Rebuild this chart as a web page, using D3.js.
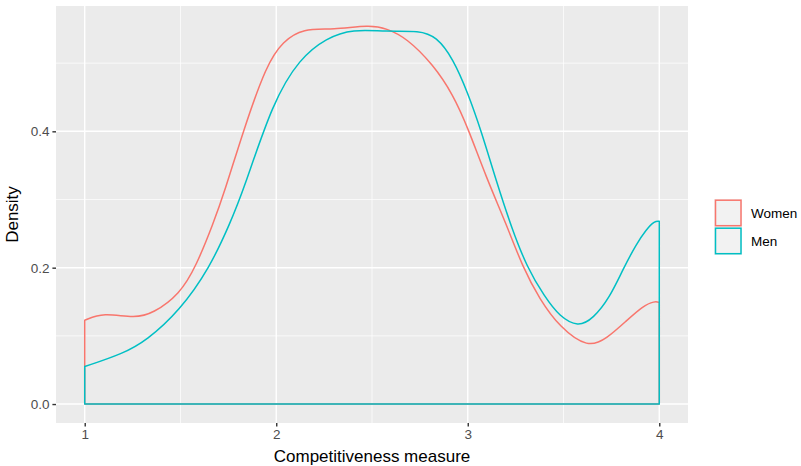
<!DOCTYPE html>
<html>
<head>
<meta charset="utf-8">
<script src="https://cdn.jsdelivr.net/npm/d3@7"></script>
<style>
	body { margin: 0; background: #fff; }
	text { font-family: "Liberation Sans", Arial, sans-serif; }
</style>
</head>
<body>
<div id="chart"></div>
<script>
const width = 801;
const height = 466;

// values (x = competitiveness, y = density)
const womenX = [1, 1.096, 1.261, 1.357, 1.496, 1.583, 1.67, 1.731, 1.827, 1.949, 2.035, 2.14, 2.297, 2.488, 2.575, 2.68, 2.819, 2.923, 3.001, 3.097, 3.201, 3.288, 3.375, 3.48, 3.628, 3.724, 3.828, 3.915, 3.976, 4];
const womenY = [0.123, 0.134, 0.126, 0.133, 0.161, 0.203, 0.264, 0.312, 0.4, 0.498, 0.532, 0.551, 0.549, 0.556, 0.551, 0.537, 0.498, 0.454, 0.405, 0.332, 0.264, 0.2, 0.154, 0.1126, 0.082, 0.0956, 0.122, 0.144, 0.151, 0.149];
const menX = [1, 1.2, 1.322, 1.496, 1.653, 1.757, 1.827, 1.983, 2.123, 2.262, 2.4, 2.575, 2.749, 2.836, 2.923, 3.001, 3.071, 3.149, 3.228, 3.31, 3.4, 3.48, 3.576, 3.654, 3.741, 3.811, 3.88, 3.932, 3.976, 4];
const menY = [0.055, 0.074, 0.093, 0.137, 0.2, 0.264, 0.312, 0.444, 0.507, 0.537, 0.55, 0.546, 0.548, 0.539, 0.507, 0.456, 0.4, 0.327, 0.259, 0.2, 0.158, 0.128, 0.113, 0.125, 0.156, 0.198, 0.2345, 0.256, 0.2685, 0.268];

const groups = ["Women", "Men"];
const colors = ["#F8766D", "#00BFC4"];
const xTicks = [1, 2, 3, 4];
const xMinor = [1.5, 2.5, 3.5];
const yTicks = [0, 0.2, 0.4];
const yMinor = [0.1, 0.3, 0.5];

const panel = { left: 56, top: 6, right: 688, bottom: 423 };

const series = [
	womenX.map((v, i) => [v, womenY[i]]),
	menX.map((v, i) => [v, menY[i]]),
];

const xLo = 1, xHi = 4;
const yMax = d3.max(womenY.concat(menY));
const xPad = (xHi - xLo) * 0.05;
const yPad = yMax * 0.05;

const x = d3.scaleLinear().domain([xLo - xPad, xHi + xPad]).range([panel.left, panel.right]);
const y = d3.scaleLinear().domain([-yPad, yMax + yPad]).range([panel.bottom, panel.top]);

const svg = d3
	.select("#chart")
	.append("svg")
	.attr("width", width)
	.attr("height", height);

svg.append("rect")
	.attr("x", panel.left)
	.attr("y", panel.top)
	.attr("width", panel.right - panel.left)
	.attr("height", panel.bottom - panel.top)
	.attr("fill", "#EBEBEB");

// minor grid
svg.selectAll(".xminor").data(xMinor).join("line")
	.attr("x1", d => x(d)).attr("x2", d => x(d))
	.attr("y1", panel.top).attr("y2", panel.bottom)
	.attr("stroke", "#fff").attr("stroke-width", 0.7);
svg.selectAll(".yminor").data(yMinor).join("line")
	.attr("y1", d => y(d)).attr("y2", d => y(d))
	.attr("x1", panel.left).attr("x2", panel.right)
	.attr("stroke", "#fff").attr("stroke-width", 0.7);

// major grid
svg.selectAll(".xmajor").data(xTicks).join("line")
	.attr("x1", d => x(d)).attr("x2", d => x(d))
	.attr("y1", panel.top).attr("y2", panel.bottom)
	.attr("stroke", "#fff").attr("stroke-width", 1.4);
svg.selectAll(".ymajor").data(yTicks).join("line")
	.attr("y1", d => y(d)).attr("y2", d => y(d))
	.attr("x1", panel.left).attr("x2", panel.right)
	.attr("stroke", "#fff").attr("stroke-width", 1.4);

// density outlines: baseline -> curve -> baseline
const line = d3.line()
	.x(d => x(d[0]))
	.y(d => y(d[1]))
	.curve(d3.curveBasis);

series.forEach((pts, i) => {
	const first = pts[0], last = pts[pts.length - 1];
	const d = "M" + x(first[0]) + "," + y(0) +
		"L" + line(pts).slice(1) +
		"L" + x(last[0]) + "," + y(0) + "Z";
	svg.append("path")
		.attr("d", d)
		.attr("fill", "none")
		.attr("stroke", colors[i])
		.attr("stroke-width", 1.5)
		.attr("stroke-linejoin", "round");
});

// axes
const xAxis = svg.append("g")
	.attr("transform", "translate(0," + panel.bottom + ")")
	.call(d3.axisBottom(x).tickValues(xTicks).tickSize(3.6).tickPadding(3).tickFormat(d3.format("d")));
const yAxis = svg.append("g")
	.attr("transform", "translate(" + panel.left + ",0)")
	.call(d3.axisLeft(y).tickValues(yTicks).tickSize(3.6).tickPadding(3).tickFormat(d3.format(".1f")));

[xAxis, yAxis].forEach(g => {
	g.select(".domain").remove();
	g.selectAll("line").attr("stroke", "#333333").attr("stroke-width", 1.4);
	g.selectAll("text")
		.attr("fill", "#4D4D4D")
		.style("font-size", "13.5px")
		.style("font-family", "'Liberation Sans', Arial, sans-serif");
});

svg.append("text")
	.attr("x", (panel.left + panel.right) / 2)
	.attr("y", 462)
	.attr("text-anchor", "middle")
	.style("font-size", "17px")
	.text("Competitiveness measure");

svg.append("text")
	.attr("transform", "translate(18," + (panel.top + panel.bottom) / 2 + ") rotate(-90)")
	.attr("text-anchor", "middle")
	.style("font-size", "17px")
	.text("Density");

// legend
const legend = svg.selectAll(".legend").data(groups).join("g")
	.attr("transform", (d, i) => "translate(714," + (199 + i * 28) + ")");
legend.append("rect")
	.attr("width", 28).attr("height", 28)
	.attr("fill", "#F2F2F2");
legend.append("rect")
	.attr("x", 1.5).attr("y", 1.2)
	.attr("width", 25.5).attr("height", 25.5)
	.attr("fill", "none")
	.attr("stroke", (d, i) => colors[i])
	.attr("stroke-width", 1.5);
legend.append("text")
	.attr("x", 37)
	.attr("y", 19)
	.style("font-size", "13.5px")
	.attr("fill", "#000")
	.text(d => d);
</script>
</body>
</html>
